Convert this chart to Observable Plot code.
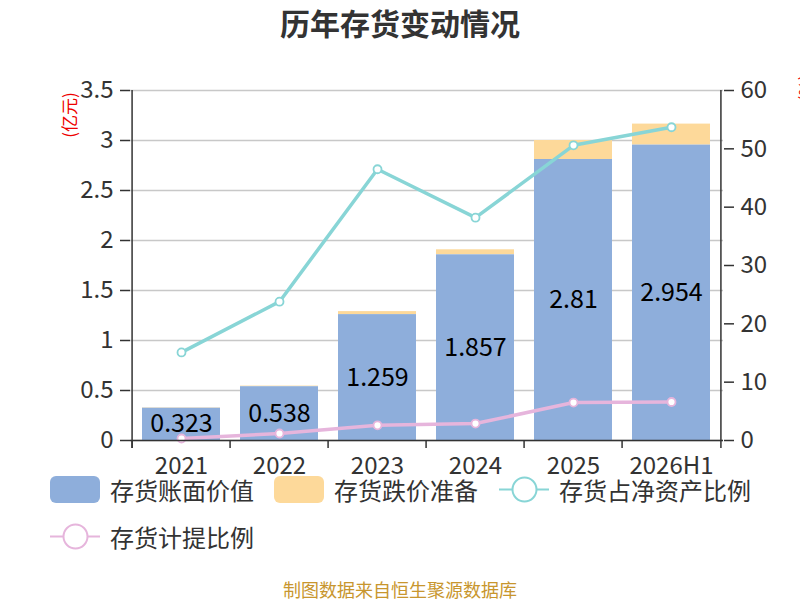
<!DOCTYPE html>
<html><head><meta charset="utf-8">
<script src="https://cdn.jsdelivr.net/npm/d3@7"></script>
<script src="https://cdn.jsdelivr.net/npm/@observablehq/plot@0.6"></script>
<style>
body{margin:0;background:#fff;font-family:"Noto Sans CJK SC","Noto Sans",sans-serif;}
#wrap{position:relative;width:800px;height:600px;overflow:hidden;}
#title{position:absolute;top:0;left:0;width:800px;text-align:center;font-size:30px;line-height:44px;font-weight:bold;color:#333;}
#chart{position:absolute;top:0;left:0;}
.ylab{position:absolute;width:60px;height:20px;line-height:20px;text-align:center;color:#e00;font-size:17px;transform:rotate(-90deg);transform-origin:center;white-space:nowrap;}
.leg{position:absolute;display:flex;align-items:center;font-size:24px;color:#333;white-space:nowrap;}
#caption{position:absolute;top:579px;left:0;width:800px;text-align:center;font-size:18px;line-height:20px;color:#c8962e;}
</style></head>
<body>
<div id="wrap">
  <div id="chart"></div>
  <div id="title">历年存货变动情况</div>
  <div class="ylab" style="left:39px;top:105px;">(亿元)</div>
  <div class="ylab" style="left:775px;top:78px;">(%)</div>
  <div id="legend"></div>
  <div id="caption">制图数据来自恒生聚源数据库</div>
</div>
<script>
const years = ["2021", "2022", "2023", "2024", "2025", "2026H1"];
const bookValue = [0.323, 0.538, 1.259, 1.857, 2.81, 2.954];
const reserve = [0.004, 0.006, 0.03, 0.05, 0.19, 0.21];
const netAssetPct = [15.1, 23.8, 46.5, 38.2, 50.6, 53.7];
const provisionPct = [0.34, 1.2, 2.6, 2.9, 6.5, 6.6];
const leftTicks = [0, 0.5, 1, 1.5, 2, 2.5, 3, 3.5];
const rightTicks = [0, 10, 20, 30, 40, 50, 60];
const seriesNames = ["存货账面价值", "存货跌价准备", "存货占净资产比例", "存货计提比例"];
const colors = ["#8eaedb", "#fdd99a", "#88d5d6", "#e6b5dc"];

const k = 3.5 / 60;
const rows = years.map((y, i) => ({year: y, book: bookValue[i], reserve: reserve[i], net: netAssetPct[i], prov: provisionPct[i]}));

const W = 800, H = 480, mL = 130, mR = 77, mT = 90, mB = 40;
const step = (W - mL - mR) / years.length;

const chart = Plot.plot({
  width: W, height: H, marginTop: mT, marginBottom: mB, marginLeft: mL, marginRight: mR,
  style: {fontFamily: '"Noto Sans CJK SC","Noto Sans",sans-serif', fontSize: "24px", color: "#333", background: "transparent", overflow: "visible"},
  x: {type: "band", domain: years, paddingInner: 0.2, paddingOuter: 0.1, label: null},
  y: {domain: [0, 3.5], label: null},
  marks: [
    Plot.gridY(leftTicks, {stroke: "#c8c8c8", strokeOpacity: 1, strokeWidth: 1.5}),
    Plot.barY(rows, {x: "year", y1: "book", y2: d => d.book + d.reserve, fill: colors[1]}),
    Plot.barY(rows, {x: "year", y1: 0, y2: "book", fill: colors[0]}),
    Plot.text(rows, {x: "year", y: d => d.book / 2, text: d => String(d.book), fontSize: 25, fill: "#000"}),
    Plot.line(rows, {x: "year", y: d => d.net * k, stroke: colors[2], strokeWidth: 3.5}),
    Plot.dot(rows, {x: "year", y: d => d.net * k, r: 4, fill: "#fff", stroke: colors[2], strokeWidth: 1.8}),
    Plot.line(rows, {x: "year", y: d => d.prov * k, stroke: colors[3], strokeWidth: 3.5}),
    Plot.dot(rows, {x: "year", y: d => d.prov * k, r: 4, fill: "#fff", stroke: colors[3], strokeWidth: 1.8}),
    Plot.ruleY([0], {stroke: "#333", strokeWidth: 1.5}),
    Plot.ruleX(years, {x: d => d, y1: 0, y2: 0, insetBottom: -8, dx: -step / 2, stroke: "#333", strokeWidth: 1.5}),
    Plot.ruleX([years[0]], {x: d => d, insetBottom: -8, dx: -step / 2, stroke: "#333", strokeWidth: 1.5}),
    Plot.ruleX([years[years.length - 1]], {x: d => d, insetBottom: -8, dx: step / 2, stroke: "#333", strokeWidth: 1.5}),
    Plot.axisY({anchor: "left", ticks: leftTicks, tickSize: 10, tickPadding: 7, fontSize: 24, stroke: "#333", strokeWidth: 1.5, tickFormat: d => String(d)}),
    Plot.axisY({anchor: "right", ticks: rightTicks.map(v => v * k), tickSize: 10, tickPadding: 7, fontSize: 24, stroke: "#333", strokeWidth: 1.5, tickFormat: d => String(Math.round(d / k))}),
    Plot.axisX({tickSize: 0, tickPadding: 16, fontSize: 24})
  ]
});
document.getElementById("chart").appendChild(chart);

// legend
const legend = document.getElementById("legend");
const legItems = [
  {name: seriesNames[0], color: colors[0], kind: "rect", left: 50, top: 476},
  {name: seriesNames[1], color: colors[1], kind: "rect", left: 274, top: 476},
  {name: seriesNames[2], color: colors[2], kind: "line", left: 499, top: 476},
  {name: seriesNames[3], color: colors[3], kind: "line", left: 50, top: 523}
];
legItems.forEach(it => {
  const d = document.createElement("div");
  d.className = "leg";
  d.style.left = it.left + "px";
  d.style.top = it.top + "px";
  d.style.height = "27px";
  const sym = it.kind === "rect"
    ? `<svg width="50" height="27"><rect x="0" y="0" width="50" height="27" rx="6" fill="${it.color}"/></svg>`
    : `<svg width="50" height="27"><line x1="0" y1="13.5" x2="50" y2="13.5" stroke="${it.color}" stroke-width="2"/><circle cx="25.5" cy="13.5" r="12" fill="#fff" stroke="${it.color}" stroke-width="2"/></svg>`;
  d.innerHTML = sym + `<span style="margin-left:10px;line-height:27px;">${it.name}</span>`;
  legend.appendChild(d);
});
</script>
</body></html>
